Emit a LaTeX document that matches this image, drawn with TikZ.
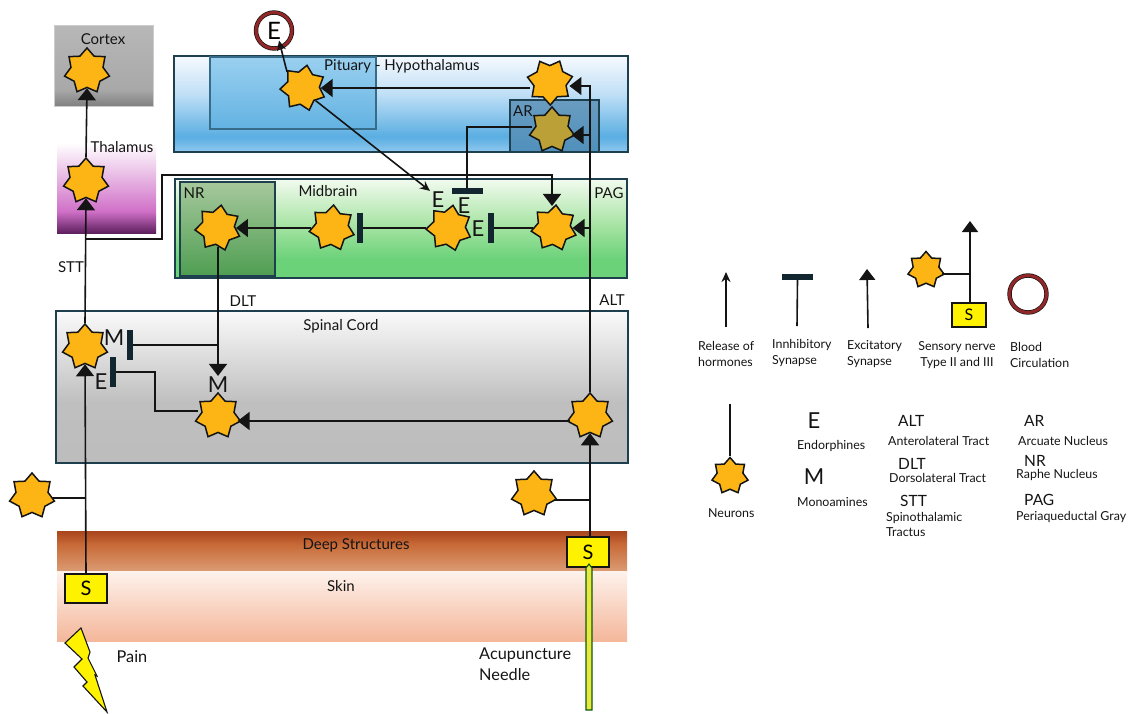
\documentclass[tikz,border=0pt]{standalone}
\usepackage{fontspec}
\setmainfont{Lato}
\usepackage{xcolor}
\usetikzlibrary{
  arrows.meta,
  positioning,
  shapes.geometric,
  calc
}
\definecolor{edgeteal}{HTML}{1E3F4E}
\definecolor{neuronfill}{HTML}{FDB515}
\definecolor{inkdark}{HTML}{141414}
\definecolor{hA}{HTML}{F6F9FE}
\definecolor{hB}{HTML}{BFDFF6}
\definecolor{hC}{HTML}{5AAEE2}
\definecolor{hD}{HTML}{8FC8EE}
\definecolor{mA}{HTML}{F2FBEF}
\definecolor{mB}{HTML}{A8E4A4}
\definecolor{mC}{HTML}{6CD27A}
\definecolor{nrA}{HTML}{A6C89C}
\definecolor{nrB}{HTML}{4F9E52}
\definecolor{arA}{HTML}{6A9CC0}
\definecolor{arB}{HTML}{4F90BC}
\definecolor{pitA}{HTML}{9AD0F0}
\definecolor{pitB}{HTML}{62B2E2}
\definecolor{needlefill}{HTML}{E9E83C}
\definecolor{thA}{HTML}{FFFFFF}
\definecolor{thB}{HTML}{D070C8}
\definecolor{thC}{HTML}{5E205E}
\definecolor{dA}{HTML}{A9451C}
\definecolor{dB}{HTML}{C86A38}
\definecolor{dC}{HTML}{DB9B72}
\definecolor{skA}{HTML}{FEF2EC}
\definecolor{skB}{HTML}{F4B79A}
\pgfdeclareverticalshading{cortexshade}{100bp}{color(0bp)=(black!50);color(25bp)=(black!50);color(35bp)=(black!34);color(75bp)=(black!28);color(100bp)=(black!28)}
\pgfdeclareverticalshading{thalshade}{100bp}{color(0bp)=(thC);color(25bp)=(thC);color(37bp)=(thB);color(75bp)=(thA);color(100bp)=(thA)}
\pgfdeclareverticalshading{hyposhade}{100bp}{color(0bp)=(hD);color(25bp)=(hD);color(33bp)=(hC);color(55bp)=(hB);color(75bp)=(hA);color(100bp)=(hA)}
\pgfdeclareverticalshading{midshade}{100bp}{color(0bp)=(mC);color(25bp)=(mC);color(35bp)=(mC);color(52bp)=(mB);color(75bp)=(mA);color(100bp)=(mA)}
\pgfdeclareverticalshading{spineshade}{100bp}{color(0bp)=(black!26);color(25bp)=(black!26);color(45bp)=(black!25);color(75bp)=(black!2);color(100bp)=(black!2)}
\pgfdeclareverticalshading{deepshade}{100bp}{color(0bp)=(dC);color(25bp)=(dC);color(58bp)=(dB);color(75bp)=(dA);color(100bp)=(dA)}
\tikzset{
  region/.style={draw=edgeteal, line width=1.5pt, inner sep=0pt},
  plainregion/.style={inner sep=0pt},
  neuron/.style={star, star points=7, star point ratio=1.4, draw=inkdark,
    fill=neuronfill, line width=1.5pt, minimum size=46pt, inner sep=0pt},
  smallneuron/.style={neuron, minimum size=37pt},
  wire/.style={draw=inkdark, line width=1.6pt},
  excite/.style={wire, -{Triangle[width=18pt,length=12pt]}},
  release/.style={wire, -{Stealth[width=9pt,length=10pt]}},
  hbar/.style={fill=edgeteal!60!black, minimum width=31pt, minimum height=5.5pt, inner sep=0pt},
  vbar/.style={fill=edgeteal!60!black, minimum width=5.5pt, minimum height=30pt, inner sep=0pt},
  sensor/.style={draw=inkdark, fill=yellow, line width=1.2pt, inner sep=0pt,
    font=\fontsize{20}{20}\selectfont},
  bloodring/.style={circle, draw=inkdark, double=red!50!black!85, double distance=3pt,
    line width=.7pt, fill=white, inner sep=0pt},
  lbl/.style={inner sep=0pt, text=inkdark, font=\fontsize{15}{17}\selectfont},
  legtxt/.style={inner sep=0pt, text=inkdark, anchor=west, align=left,
    font=\fontsize{12.4}{15.5}\selectfont},
  legkey/.style={inner sep=0pt, text=inkdark, anchor=west, font=\fontsize{15.5}{17}\selectfont},
  bigletter/.style={inner sep=0pt, text=inkdark, font=\fontsize{22}{22}\selectfont}
}
\begin{document}
\begin{tikzpicture}[x=1pt, y=-1pt]
\useasboundingbox (0,0) rectangle (1129,713);

% regions
\node[plainregion, draw=black!20, shade, shading=cortexshade, minimum width=99pt, minimum height=81pt] (cortexbox) at (103.5,65.5) {};
\node[plainregion, shade, shading=thalshade, minimum width=99pt, minimum height=90pt] (thalbox) at (106.5,188) {};
\node[region, shade, shading=hyposhade, minimum width=454pt, minimum height=96pt] (hypobox) at (401,104) {};
\node[region, draw=edgeteal!60!hC, line width=1.2pt, top color=pitA, bottom color=pitB, minimum width=166pt, minimum height=72pt] (pitbox) at (293,93) {};
\node[region, top color=arA, bottom color=arB, minimum width=89pt, minimum height=52pt] (arbox) at (554.5,126) {};
\node[region, shade, shading=midshade, minimum width=452pt, minimum height=99pt] (midbox) at (401,228.5) {};
\node[region, top color=nrA, bottom color=nrB, minimum width=95pt, minimum height=94pt] (nrbox) at (227.5,229) {};
\node[region, shade, shading=spineshade, minimum width=572pt, minimum height=152pt] (spinebox) at (342,387) {};
\node[plainregion, shade, shading=deepshade, minimum width=570pt, minimum height=40pt] (deepbox) at (342,551) {};
\node[plainregion, top color=skA, bottom color=skB, minimum width=570pt, minimum height=70pt] (skinbox) at (342,606) {};

% region labels
\node[lbl] (cortexlbl) at (103,39) {Cortex};
\node[lbl] (thallbl) at (122,147) {Thalamus};
\node[lbl, anchor=west] (hypolbl) at (324,66) {Pituary - Hypothalamus};
\node[lbl] (nrlbl) at (194,193) {NR};
\node[lbl] (midlbl) at (328,191) {Midbrain};
\node[lbl] (paglbl) at (609,193) {PAG};
\node[lbl] (arlbl) at (523,111) {AR};
\node[lbl] (sttlbl) at (71,267) {STT};
\node[lbl] (dltlbl) at (243,301) {DLT};
\node[lbl] (altlbl) at (612,300) {ALT};
\node[lbl] (spinelbl) at (341,326) {Spinal Cord};
\node[lbl] (deeplbl) at (356,545) {Deep Structures};
\node[lbl] (skinlbl) at (341,586) {Skin};
\node[lbl, font=\fontsize{16.3}{18}\selectfont] (painlbl) at (132,657) {Pain};
\node[lbl, anchor=west, align=left, font=\fontsize{16.3}{21}\selectfont] (needlelbl) at (479,664) {Acupuncture\\Needle};

% neurons
\node[neuron] (ncortex) at (87,71) {};
\node[neuron] (nthal) at (86,181) {};
\node[neuron, shape border rotate=-10] (npit) at (303,88) {};
\node[neuron, shape border rotate=-25] (nhypo) at (550,82) {};
\node[neuron, fill=yellow!60!black!75!orange] (nar) at (552,130) {};
\node[neuron, shape border rotate=-8] (nnr) at (218,228) {};
\node[neuron, shape border rotate=-4] (nmono) at (332,228) {};
\node[neuron, shape border rotate=-10] (nendo) at (449,228) {};
\node[neuron, shape border rotate=-5] (npag) at (554,228) {};
\node[neuron] (nspine) at (85,347) {};
\node[neuron] (ndors) at (218,416) {};
\node[neuron] (nalt) at (590,416) {};
\node[neuron] (nleft) at (32,496) {};
\node[neuron] (nright) at (534,494) {};

% sensors, blood
\node[sensor, minimum width=42pt, minimum height=29pt] (sleft) at (86,588.5) {S};
\node[sensor, minimum width=42pt, minimum height=30pt] (sright) at (588,552) {S};
\node[bloodring, minimum size=36pt, font=\fontsize{24}{24}\selectfont] (blood) at (274,30.5) {E};

% inhibitory bars
\node[hbar] (barar) at (467,191) {};
\node[vbar] (barpag) at (491,228) {};
\node[vbar] (barendo) at (360,228) {};
\node[vbar] (barmono) at (130,345) {};
\node[vbar] (bardors) at (113,372) {};

% transmitter letters
\node[bigletter] (ea) at (438,200) {E};
\node[bigletter] (eb) at (464,206) {E};
\node[bigletter] (ec) at (478,229) {E};
\node[bigletter] (ma) at (114,338) {M};
\node[bigletter] (eleft) at (101,382) {E};
\node[bigletter] (mb) at (218,385) {M};

% ascending tracts
\draw[excite] (nthal.north) -- (ncortex.south);
\draw[excite] (nspine.north) -- (nthal.south);
\draw[excite] (sleft.north) -- (nspine.south);
\coordinate (jleft) at (sleft.north |- nleft.east);
\draw[wire] ($(nleft.east)+(0,2)$) -- ($(jleft)+(0,2)$);

% branch of the STT
\coordinate (kneeA) at (86,239);
\coordinate (kneeB) at (162,239);
\coordinate (kneeC) at (162,175);
\coordinate (kneeD) at (552,175);
\draw[excite] (kneeA) -- (kneeB) -- (kneeC) -- (kneeD) -- (npag.north -| kneeD);

% ALT
\coordinate (altturn) at (590,86);
\draw[excite] (nalt.south |- sright.north) -- (nalt.south);
\draw[excite] (nalt.north) -- (altturn) -- ([yshift=-4pt]nhypo.east);
\coordinate (jright) at (590,500);
\draw[wire] (nright.east |- jright) -- (jright);
\draw[excite] (590,135) -- ([yshift=-5pt]nar.east);
\draw[excite] (590,228) -- (npag.east);
\draw[excite] ([yshift=-5pt]nalt.west) -- ([yshift=-5pt]ndors.east);

% hypothalamus and midbrain
\draw[excite] (nhypo.west |- npit.east) -- (npit.east);
\draw[release] (npit.north west) -- ($(blood.center)+(5,10)$);
\draw[release] (npit.south east) -- ($(ea.north)+(-8,-1)$);
\draw[wire] ([yshift=3pt]nar.west) -| (barar.north);
\draw[wire] (npag.west) -- (barpag.east);
\draw[wire] (nendo.west) -- (barendo.east);
\draw[excite] (nmono.west) -- (nnr.east);

% DLT and spinal cord
\draw[excite] (nnr.south) -- ($(mb.north)+(0,-1)$);
\coordinate (jdors) at (nnr.south |- barmono);
\draw[wire] (jdors) -- (barmono.east);
\draw[wire] ([yshift=5pt]ndors.west) -| (155,372) -- (bardors.east);

% needle
\path[draw=inkdark!70!green, line width=1.1pt, fill=needlefill]
  (586,710) -- (586,568) -- (589,564) -- (592,568) -- (592,710) -- cycle;

% pain bolt
\path[draw=inkdark, line width=1.1pt, fill=yellow]
  (81,628) -- (65,643) -- (82,659) -- (74,667) -- (87,682) -- (83,686) -- (107,712)
  -- (95,675) -- (97,676) -- (88,658) -- (90,652) -- cycle;

% key, top row
\coordinate (keyrelA) at (726,327);
\coordinate (keyrelB) at (726,272);
\draw[release] (keyrelA) -- (keyrelB);
\node[hbar] (keybar) at (797.5,277) {};
\coordinate (keyinh) at (797,326);
\draw[wire] (keyinh) -- (keybar.south);
\coordinate (keyexcA) at (868,328);
\coordinate (keyexcB) at (867,269);
\draw[wire, -{Triangle[width=16pt,length=11pt]}] (keyexcA) -- (keyexcB);
\node[sensor, minimum width=34pt, minimum height=24pt, font=\fontsize{16}{16}\selectfont] (keysensor) at (969,315) {S};
\coordinate (keytop) at (970,221);
\draw[wire, -{Triangle[width=16pt,length=11pt]}] (keysensor.north -| keytop) -- (keytop);
\node[smallneuron] (keysn) at (926,270) {};
\coordinate (keyjoin) at (970,274);
\draw[wire] (keysn.east |- keyjoin) -- (keyjoin);
\node[bloodring, minimum size=37pt] (keyblood) at (1028,294) {};

\node[legtxt] (txtrel) at (698,354) {Release of\\hormones};
\node[legtxt] (txtinh) at (772,353) {Innhibitory\\Synapse};
\node[legtxt] (txtexc) at (847,354) {Excitatory\\Synapse};
\node[legtxt, align=center, anchor=center] (txtsens) at (957,355) {Sensory nerve\\Type II and III};
\node[legtxt] (txtblood) at (1010,355) {Blood\\Circulation};

% key, bottom row
\node[smallneuron] (keyneuron) at (730,476) {};
\coordinate (keystem) at (730,404);
\draw[wire] (keystem) -- (keyneuron.north);
\node[legtxt] (txtneuron) at (708,513) {Neurons};
\node[bigletter] (keye) at (814,421) {E};
\node[legtxt] (txte) at (797,446) {Endorphines};
\node[bigletter] (keym) at (814,477) {M};
\node[legtxt] (txtm) at (797,502) {Monoamines};
\node[legkey] (keyalt) at (898,421) {ALT};
\node[legtxt] (txtalt) at (888,441) {Anterolateral Tract};
\node[legkey] (keydlt) at (898,464) {DLT};
\node[legtxt] (txtdlt) at (889,478) {Dorsolateral Tract};
\node[legkey] (keystt) at (900,501) {STT};
\node[legtxt] (txtstt) at (886,524.5) {Spinothalamic\\Tractus};
\node[legkey] (keyar) at (1024,421) {AR};
\node[legtxt] (txtar) at (1018,441) {Arcuate Nucleus};
\node[legkey] (keynr) at (1024,461) {NR};
\node[legtxt] (txtnr) at (1016,475) {Raphe Nucleus};
\node[legkey] (keypag) at (1024,500) {PAG};
\node[legtxt] (txtpag) at (1016,517) {Periaqueductal Gray};
\end{tikzpicture}
\end{document}
